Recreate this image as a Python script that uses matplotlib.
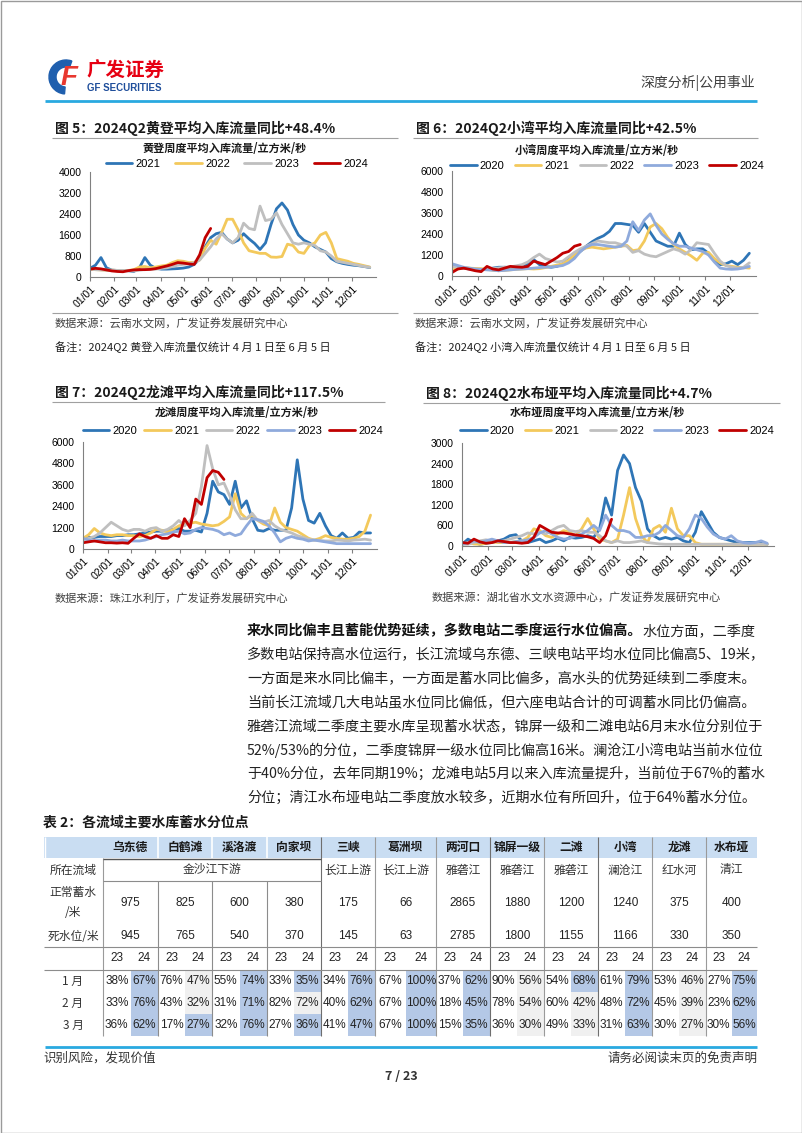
import matplotlib
matplotlib.use('Agg')
import matplotlib.pyplot as plt
from matplotlib.lines import Line2D
from matplotlib.patches import Rectangle, Wedge
import numpy as np

plt.rcParams['font.family'] = ['Noto Sans CJK SC', 'DejaVu Sans']

W, H = 802, 1133
LATIN = ['Liberation Sans', 'Noto Sans CJK SC']

MONTH_LABELS = ['01/01', '02/01', '03/01', '04/01', '05/01', '06/01',
                '07/01', '08/01', '09/01', '10/01', '11/01', '12/01']
MONTH_START_DAY = [0, 31, 59, 90, 120, 151, 181, 212, 243, 273, 304, 334]

# ---- 图5 黄登 weekly inflow (m3/s), one value per week
HD_YEARS = ['2021', '2022', '2023', '2024']
HD_2021 = [330, 450, 740, 350, 260, 250, 250, 240, 210, 350, 740, 450, 330, 300, 300, 310,
           320, 340, 380, 480, 700, 1150, 1500, 1650, 1700, 1450, 1300, 1400, 1650, 1450,
           1280, 1050, 1300, 2000, 2600, 2820, 2550, 2000, 1600, 1400, 1300, 1150, 1050,
           950, 700, 580, 520, 480, 450, 430, 400, 360]
HD_2022 = [300, 280, 270, 260, 260, 250, 240, 250, 280, 380, 400, 350, 380, 420, 450, 550,
           620, 600, 550, 560, 650, 1100, 1400, 1250, 1700, 2200, 2200, 1800, 1300, 1000,
           950, 900, 900, 760, 750, 780, 1250, 1200, 950, 900, 1200, 1300, 1600, 1700, 1300,
           700, 650, 600, 520, 480, 430, 380]
HD_2023 = [300, 280, 270, 260, 260, 250, 250, 240, 230, 260, 290, 300, 300, 330, 350, 400,
           450, 480, 500, 550, 650, 900, 1150, 1450, 1650, 1450, 1300, 1500, 2050, 1850,
           1800, 2700, 2150, 2200, 2450, 2000, 1650, 1300, 1250, 1300, 1250, 1200, 1000,
           950, 800, 600, 560, 520, 480, 440, 400, 370]
HD_2024 = [300, 330, 310, 270, 230, 210, 200, 240, 270, 280, 280, 290, 320, 370, 420, 480,
           550, 530, 500, 480, 850, 1500, 1850]

# ---- 图6 小湾
XW_YEARS = ['2020', '2021', '2022', '2023', '2024']
XW_2020 = [600, 500, 450, 400, 350, 350, 400, 450, 500, 500, 480, 450, 420, 700, 950, 650,
           550, 500, 550, 700, 950, 1150, 1400, 1700, 1950, 2150, 2300, 2550, 3000, 3000,
           2950, 2900, 2500, 3000, 2500, 2000, 1850, 1700, 1700, 2450, 1800, 1500, 1550,
           1550, 1300, 900, 650, 700, 850, 650, 900, 1300]
XW_2021 = [350, 400, 480, 450, 430, 420, 380, 330, 300, 320, 350, 380, 400, 420, 400, 420,
           480, 550, 620, 700, 900, 1200, 1450, 1600, 1650, 1600, 1550, 1600, 1650, 1700,
           1750, 1450, 1500, 2000, 2800, 3000, 2700, 2200, 1800, 1550, 1350, 1150, 900,
           1300, 1350, 1000, 750, 600, 550, 500, 480, 450]
XW_2022 = [550, 500, 450, 420, 380, 350, 380, 420, 460, 500, 520, 580, 650, 800, 1050, 1250,
           1000, 900, 800, 850, 1100, 1350, 1550, 1700, 1850, 2000, 1950, 1900, 1900, 1800,
           1700, 1350, 1450, 1250, 1150, 1100, 1250, 1400, 1550, 1450, 1250, 1500, 1900,
           1850, 1800, 1300, 850, 600, 500, 450, 500, 750]
XW_2023 = [700, 600, 500, 450, 400, 380, 350, 330, 300, 320, 350, 380, 400, 420, 450, 480,
           500, 520, 550, 600, 750, 1000, 1400, 1650, 1800, 1800, 1750, 1700, 1650, 1700,
           2000, 3100, 2600, 3200, 3550, 2900, 2400, 2100, 1850, 1700, 1700, 1600, 1500,
           1400, 1200, 800, 450, 400, 380, 400, 450, 550]
XW_2024 = [200, 400, 450, 380, 300, 250, 550, 400, 350, 450, 550, 520, 500, 550, 850, 750,
           650, 850, 1050, 1300, 1400, 1700, 1800]

# ---- 图7 龙滩
LT_YEARS = ['2020', '2021', '2022', '2023', '2024']
LT_2020 = [600, 650, 650, 700, 700, 700, 750, 750, 800, 800, 850, 900, 950, 1000, 1000, 1050,
           1100, 1150, 1000, 1000, 1050, 950, 2000, 3800, 3200, 3050, 2500, 3800, 2300,
           2700, 1700, 1050, 1000, 1150, 1050, 1050, 1050, 2300, 5000, 2800, 1600, 1450,
           2000, 1300, 750, 600, 900, 600, 650, 950, 900, 900]
LT_2021 = [600, 800, 1150, 900, 800, 750, 800, 800, 750, 750, 700, 750, 900, 1100, 1050, 950,
           1100, 1300, 1400, 1450, 1500, 1400, 1350, 1300, 1350, 1550, 1800, 3100, 2000,
           1700, 1900, 1600, 1400, 1300, 2300, 1500, 1200, 1100, 1000, 800, 600, 500, 600,
           750, 650, 600, 550, 550, 600, 700, 1000, 1900]
LT_2022 = [500, 600, 700, 900, 1200, 1500, 1300, 1100, 1000, 1100, 1100, 1000, 1150, 1200,
           1000, 1100, 1300, 1600, 1300, 1600, 2000, 3500, 5800, 4500, 3600, 3700, 3000,
           2200, 1700, 1700, 2000, 1600, 1500, 1600, 1300, 1100, 1000, 900, 750, 650, 550,
           500, 480, 450, 450, 500, 480, 450, 500, 520, 550, 500]
LT_2023 = [600, 500, 450, 500, 500, 450, 450, 500, 450, 450, 450, 500, 600, 700, 800, 850,
           950, 1000, 850, 900, 1100, 1200, 1150, 1100, 1000, 800, 900, 750, 850, 1300, 1700,
           1650, 1550, 1300, 900, 400, 600, 700, 600, 550, 450, 500, 450, 400, 350, 300, 300,
           300, 300, 300, 300, 300]
LT_2024 = [350, 400, 450, 400, 350, 350, 330, 350, 320, 600, 850, 700, 600, 750, 600, 600,
           800, 700, 1700, 1200, 2800, 2500, 4000, 4400, 4300, 3900]

# ---- 图8 水布垭
SBY_YEARS = ['2020', '2021', '2022', '2023', '2024']
SBY_2020 = [50, 200, 100, 50, 80, 100, 150, 200, 300, 330, 150, 100, 150, 200, 100, 150, 230,
            150, 250, 230, 250, 300, 250, 500, 1400, 900, 2200, 2650, 2400, 1700, 1300, 500,
            300, 200, 250, 200, 250, 150, 100, 400, 1000, 700, 400, 250, 200, 150, 100, 100,
            100, 100, 80, 50]
SBY_2021 = [50, 100, 60, 50, 80, 120, 100, 100, 100, 130, 150, 250, 500, 450, 300, 250, 350,
            450, 400, 300, 500, 800, 500, 200, 150, 100, 200, 900, 1700, 800, 300, 100, 500,
            600, 400, 1100, 500, 300, 300, 100, 50, 50, 50, 50, 50, 50, 50, 50, 50, 50, 50, 50]
SBY_2022 = [50, 50, 100, 150, 180, 150, 120, 150, 200, 250, 300, 380, 350, 400, 350, 450, 550,
            600, 450, 420, 450, 400, 400, 300, 150, 100, 150, 100, 100, 120, 150, 100, 80, 60,
            50, 50, 50, 50, 50, 50, 50, 50, 50, 50, 50, 50, 50, 50, 50, 50, 50, 50]
SBY_2023 = [50, 100, 150, 100, 150, 200, 150, 100, 100, 130, 150, 180, 250, 380, 450, 350,
            250, 200, 220, 300, 350, 450, 600, 450, 900, 600, 450, 450, 400, 250, 250, 300,
            300, 400, 600, 450, 300, 250, 500, 900, 800, 550, 350, 250, 200, 300, 150, 100,
            80, 100, 150, 80]
SBY_2024 = [100, 80, 200, 120, 80, 100, 150, 130, 100, 100, 80, 100, 250, 600, 500, 400, 380,
            380, 350, 320, 300, 270, 220, 100, 300, 780]

# ---- 表2
STATIONS = ['乌东德', '白鹤滩', '溪洛渡', '向家坝', '三峡', '葛洲坝', '两河口', '锦屏一级',
            '二滩', '小湾', '龙滩', '水布垭']
BASINS = ['长江上游', '长江上游', '雅砻江', '雅砻江', '雅砻江', '澜沧江', '红水河', '清江']
NORMAL_LEVEL = [975, 825, 600, 380, 175, 66, 2865, 1880, 1200, 1240, 375, 400]
DEAD_LEVEL = [945, 765, 540, 370, 145, 63, 2785, 1800, 1155, 1166, 330, 350]
MONTHS = ['1 月', '2 月', '3 月']
PCT_23 = [[38, 76, 55, 33, 34, 67, 37, 90, 54, 61, 53, 27],
          [33, 43, 31, 82, 40, 67, 18, 78, 60, 48, 45, 23],
          [36, 17, 32, 27, 41, 67, 15, 36, 49, 31, 30, 30]]
PCT_24 = [[67, 47, 74, 35, 76, 100, 62, 56, 68, 79, 46, 75],
          [76, 32, 71, 72, 62, 100, 45, 54, 42, 72, 39, 62],
          [62, 27, 76, 36, 47, 100, 35, 30, 33, 63, 27, 56]]

BODY_BOLD = '来水同比偏丰且蓄能优势延续，多数电站二季度运行水位偏高。'
BODY_LINES = [
    '水位方面，二季度',
    '多数电站保持高水位运行，长江流域乌东德、三峡电站平均水位同比偏高5、19米，',
    '一方面是来水同比偏丰，一方面是蓄水同比偏多，高水头的优势延续到二季度末。',
    '当前长江流域几大电站虽水位同比偏低，但六座电站合计的可调蓄水同比仍偏高。',
    '雅砻江流域二季度主要水库呈现蓄水状态，锦屏一级和二滩电站6月末水位分别位于',
    '52%/53%的分位，二季度锦屏一级水位同比偏高16米。澜沧江小湾电站当前水位位',
    '于40%分位，去年同期19%；龙滩电站5月以来入库流量提升，当前位于67%的蓄水',
    '分位；清江水布垭电站二季度放水较多，近期水位有所回升，位于64%蓄水分位。',
]

BLUE = '#2e75b6'
YELLOW = '#f3c95c'
GRAY = '#bfbfbf'
LBLUE = '#8faadc'
RED = '#c00000'
CYAN = '#29a9e0'


def frac(l, t, w, h):
    return [l / W, 1 - (t + h) / H, w / W, h / H]


fig = plt.figure(figsize=(W / 100, H / 100), dpi=100)
page = fig.add_axes([0, 0, 1, 1])
page.set_xlim(0, W)
page.set_ylim(H, 0)
page.axis('off')
page.add_patch(Rectangle((0.5, 0.5), W - 1, H - 1, fill=False, ec='#9a9a9a', lw=1))


def hline(y, x0, x1, color='#a0a0a0', lw=0.8):
    page.plot([x0, x1], [y, y], color=color, lw=lw, solid_capstyle='butt')


def vline(x, y0, y1, color='#8c8c8c', lw=0.8):
    page.plot([x, x], [y0, y1], color=color, lw=lw, solid_capstyle='butt')


# header
page.add_patch(Wedge((66, 77), 17, 95, 290, width=7, color='#1f5fae'))
page.text(69, 78, 'F', color='#e8382f', fontsize=20, fontweight='bold', style='italic',
          ha='center', va='center', family=LATIN)
page.text(86, 71, '广发证券', color='#e60012', fontsize=14, fontweight='bold', va='center')
page.text(87, 88, 'GF SECURITIES', color='#1f4e9b', fontsize=7, fontweight='bold',
          va='center', family=LATIN)
page.text(755, 83, '深度分析|公用事业', color='#404040', fontsize=10, ha='right', va='center')
hline(101, 45, 757, color=CYAN, lw=2)


def line_chart(box, years, data, colors, ymax, ystep, leg_xy, colspace):
    ax = fig.add_axes(frac(*box))
    handles = []
    for yr, vals, c in zip(years, data, colors):
        h, = ax.plot(np.arange(len(vals)), vals, color=c, lw=2.0,
                     solid_joinstyle='round', solid_capstyle='round', label=yr)
        handles.append(h)
    ax.set_xlim(0, 365 / 7)
    ax.set_ylim(0, ymax)
    ax.set_yticks(np.arange(0, ymax + 1, ystep))
    ax.set_xticks(np.array(MONTH_START_DAY) / 7)
    ax.set_xticklabels(MONTH_LABELS, rotation=45, ha='right', va='top',
                       rotation_mode='anchor', family=LATIN, fontsize=7.5)
    for lab in ax.get_yticklabels():
        lab.set_family(LATIN)
        lab.set_fontsize(7.5)
    ax.tick_params(axis='x', length=3, color='#808080', pad=2)
    ax.tick_params(axis='y', length=0, pad=6)
    for s in ['top', 'right']:
        ax.spines[s].set_visible(False)
    for s in ['left', 'bottom']:
        ax.spines[s].set_color('#808080')
        ax.spines[s].set_linewidth(0.8)
    ax.patch.set_alpha(0)
    fig.legend(handles, years, ncol=len(years), loc='center',
               bbox_to_anchor=(leg_xy[0] / W, 1 - leg_xy[1] / H), frameon=False,
               prop={'family': LATIN, 'size': 8}, handlelength=2.4,
               handletextpad=0.3, columnspacing=colspace, borderaxespad=0)
    return ax


def chart_texts(x0, x1, title, sub, sub_x, y_title, y_line, y_sub):
    page.text(x0 + 3, y_title, title, fontsize=10, fontweight='bold', va='center',
              color='#1a1a1a')
    hline(y_line, x0, x1)
    page.text(sub_x, y_sub, sub, fontsize=8, fontweight='bold', ha='center',
              va='center', color='#1a1a1a')


# 图5
chart_texts(52, 398, '图 5：2024Q2黄登平均入库流量同比+48.4%', '黄登周度平均入库流量/立方米/秒',
            225, 128, 138, 149)
line_chart((90, 172, 286, 105), HD_YEARS, [HD_2021, HD_2022, HD_2023, HD_2024],
           [BLUE, YELLOW, GRAY, RED], 4000, 800, (237, 164), 1.3)
hline(313, 52, 398)
page.text(55, 324, '数据来源：云南水文网，广发证券发展研究中心', fontsize=8, va='center',
          color='#404040')
page.text(55, 347, '备注：2024Q2 黄登入库流量仅统计 4 月 1 日至 6 月 5 日', fontsize=8,
          va='center', color='#202020')

# 图6
chart_texts(413, 758, '图 6：2024Q2小湾平均入库流量同比+42.5%', '小湾周度平均入库流量/立方米/秒',
            597, 128, 138, 150)
line_chart((452, 171, 304, 105), XW_YEARS, [XW_2020, XW_2021, XW_2022, XW_2023, XW_2024],
           [BLUE, YELLOW, GRAY, LBLUE, RED], 6000, 1200, (607, 166), 0.9)
hline(313, 413, 758)
page.text(415, 324, '数据来源：云南水文网，广发证券发展研究中心', fontsize=8, va='center',
          color='#404040')
page.text(415, 347, '备注：2024Q2 小湾入库流量仅统计 4 月 1 日至 6 月 5 日', fontsize=8,
          va='center', color='#202020')

# 图7
chart_texts(52, 385, '图 7：2024Q2龙滩平均入库流量同比+117.5%', '龙滩周度平均入库流量/立方米/秒',
            237, 392, 402, 413)
line_chart((83, 442, 294, 107), LT_YEARS, [LT_2020, LT_2021, LT_2022, LT_2023, LT_2024],
           [BLUE, YELLOW, GRAY, LBLUE, RED], 6000, 1200, (233, 431), 0.6)
page.text(55, 598, '数据来源：珠江水利厅，广发证券发展研究中心', fontsize=8, va='center',
          color='#404040')

# 图8
chart_texts(423, 780, '图 8：2024Q2水布垭平均入库流量同比+4.7%', '水布垭周度平均入库流量/立方米/秒',
            597, 393, 403, 413)
line_chart((462, 443, 312, 103), SBY_YEARS, [SBY_2020, SBY_2021, SBY_2022, SBY_2023, SBY_2024],
           [BLUE, YELLOW, GRAY, LBLUE, RED], 3000, 600, (617, 431), 0.9)
page.text(432, 598, '数据来源：湖北省水文水资源中心，广发证券发展研究中心', fontsize=8,
          va='center', color='#404040')

# body paragraph
body_y = [631, 655, 679, 703, 727, 750, 774, 798]
t = page.text(247, body_y[0], BODY_BOLD, fontsize=10.2, fontweight='bold', va='center',
              color='#111111')
fig.canvas.draw()
x_next = t.get_window_extent().x1
page.text(x_next, body_y[0], BODY_LINES[0], fontsize=10.2, va='center', color='#222222')
for y, line in zip(body_y[1:], BODY_LINES[1:]):
    page.text(247, y, line, fontsize=10.2, va='center', color='#222222')

# 表2
page.text(43, 823, '表 2：各流域主要水库蓄水分位点', fontsize=10, fontweight='bold',
          va='center', color='#1a1a1a')
COL_X = [103, 158, 212, 267, 321, 375, 436, 490, 544, 598, 652, 706, 757]
LEFT = 44
page.add_patch(Rectangle((LEFT, 837), COL_X[-1] - LEFT, 21, color='#c9ddf2', lw=0))
for i, name in enumerate(STATIONS):
    cx = (COL_X[i] + COL_X[i + 1]) / 2
    page.text(cx, 847.5, name, fontsize=8.5, fontweight='bold', ha='center', va='center',
              color='#1a1a1a')
# month-row highlights
row_top = [970, 992, 1014]
for r in range(3):
    for i in range(12):
        mid = (COL_X[i] + COL_X[i + 1]) / 2
        up = PCT_24[r][i] > PCT_23[r][i]
        page.add_patch(Rectangle((mid, row_top[r]), COL_X[i + 1] - mid, 22,
                                 color='#b4c8e6' if up else '#f0f0f0', lw=0))
# grid lines
for k, x in enumerate(COL_X[:-1]):
    if k in (1, 2, 3):
        vline(x, 837, 858, color='#ffffff', lw=1.2)
        vline(x, 881, 1036)
    else:
        vline(x, 837 if k else 858, 1036, color='#6e6e6e' if k in (4, 7, 9) else '#9a9a9a')
vline(LEFT + 0.5, 837, 858, color='#ffffff', lw=1)
hline(859, COL_X[0], COL_X[4], color='#555555', lw=1.0)
hline(881, COL_X[0], COL_X[4], color='#8c8c8c')
hline(947, LEFT, COL_X[-1], color='#8c8c8c')
hline(970, LEFT, COL_X[-1], color='#8c8c8c')

lab_kw = dict(fontsize=8.5, ha='center', va='center', color='#333333')
page.text(73, 870, '所在流域', **lab_kw)
page.text(73, 892, '正常蓄水', **lab_kw)
page.text(73, 913, '/米', **lab_kw)
page.text(73, 936, '死水位/米', **lab_kw)
page.text((COL_X[0] + COL_X[4]) / 2, 870, '金沙江下游', **lab_kw)
for i, b in enumerate(BASINS):
    page.text((COL_X[i + 4] + COL_X[i + 5]) / 2, 870, b, **lab_kw)
num_kw = dict(fontsize=8.5, ha='center', va='center', color='#222222', family=LATIN)
for i in range(12):
    cx = (COL_X[i] + COL_X[i + 1]) / 2
    page.text(cx, 903, str(NORMAL_LEVEL[i]), **num_kw)
    page.text(cx, 936, str(DEAD_LEVEL[i]), **num_kw)
    q1 = (COL_X[i] + cx) / 2
    q2 = (cx + COL_X[i + 1]) / 2
    page.text(q1, 958, '23', **num_kw)
    page.text(q2, 958, '24', **num_kw)
    for r in range(3):
        page.text(q1, row_top[r] + 11.5, f'{PCT_23[r][i]}%', **num_kw)
        page.text(q2, row_top[r] + 11.5, f'{PCT_24[r][i]}%', **num_kw)
for r, m in enumerate(MONTHS):
    page.text(73, row_top[r] + 11.5, m, **lab_kw)

# footer
hline(1047, 45, 757, color=CYAN, lw=2)
page.text(43, 1058, '识别风险，发现价值', fontsize=9, va='center', color='#333333')
page.text(757, 1058, '请务必阅读末页的免责声明', fontsize=9, ha='right', va='center',
          color='#333333')
page.text(401, 1077, '7 / 23', fontsize=9, ha='center', va='center', color='#333333',
          fontweight='bold')

fig.savefig('out.png', dpi=100)
